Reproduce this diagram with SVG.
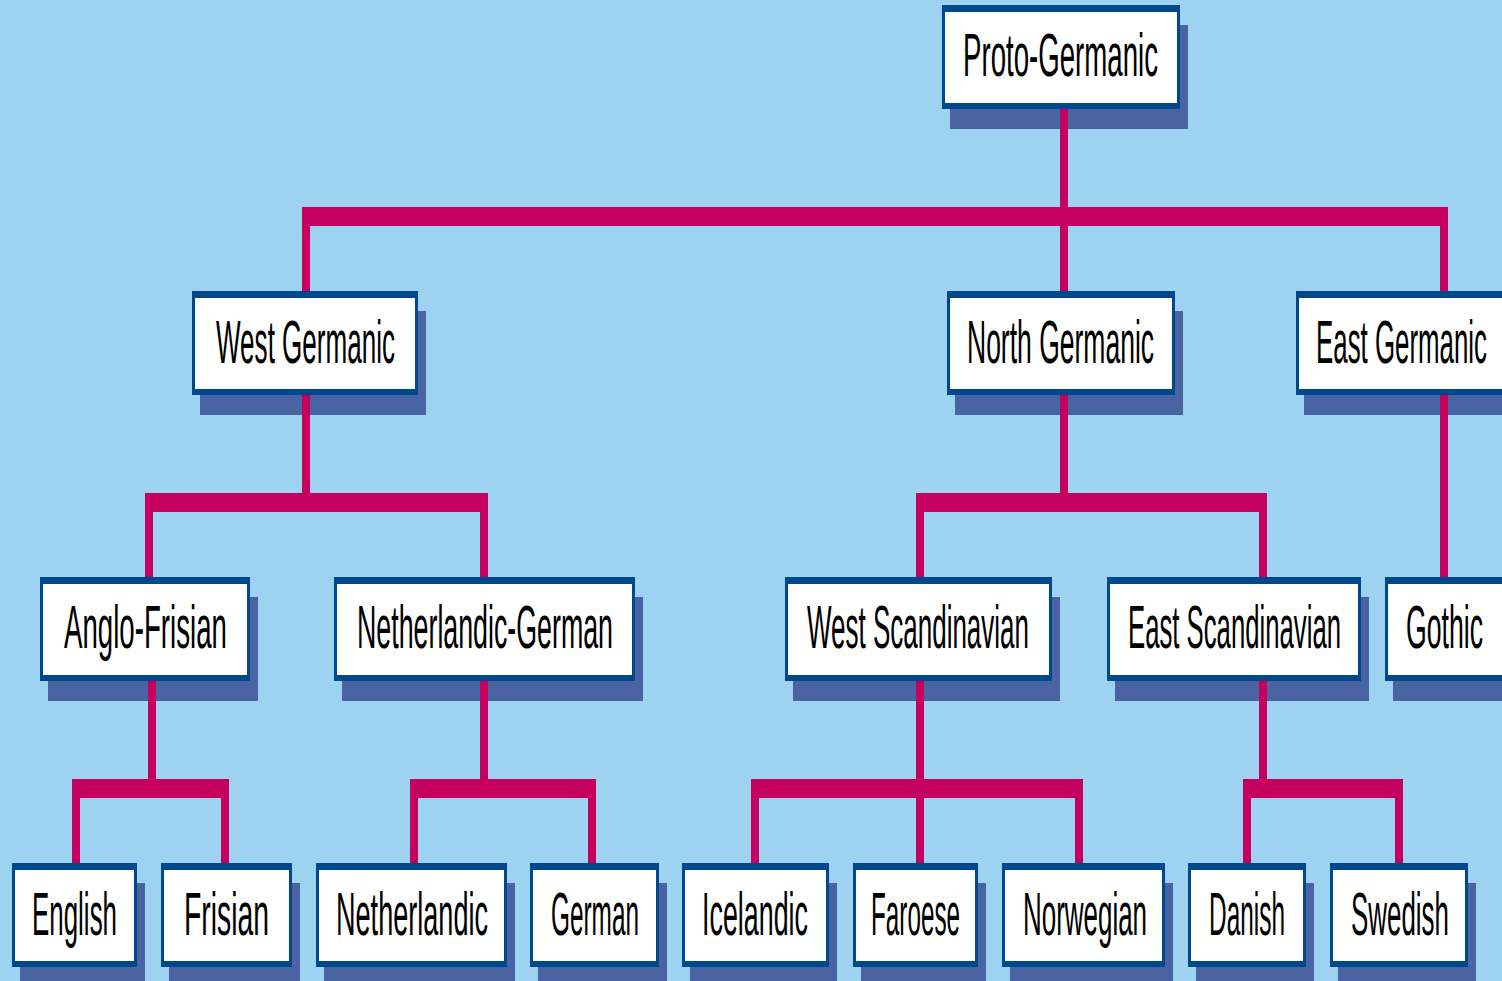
<svg xmlns="http://www.w3.org/2000/svg" width="1502" height="981" viewBox="0 0 1502 981">
<style>
.sh{fill:#4A63A2}
.bd{fill:#00488C}
.in{fill:#FFFFFF}
.t{font-family:"Liberation Sans",Arial,sans-serif;font-size:62px;fill:#000000}
.c rect{fill:#C5005F}
</style>
<rect x="0" y="0" width="1502" height="981" fill="#9DD3F1"/>
<g id="proto-germanic"><rect class="sh" x="950" y="25" width="238" height="104"/><rect class="bd" x="942" y="5" width="238" height="104"/><rect class="in" x="945" y="12" width="232" height="91"/><text class="t" transform="translate(963,76) scale(0.45,1)" textLength="433.3" lengthAdjust="spacingAndGlyphs">Proto-Germanic</text></g>
<g id="west-germanic"><rect class="sh" x="200" y="311" width="226" height="104"/><rect class="bd" x="192" y="291" width="226" height="104"/><rect class="in" x="195" y="298" width="220" height="91"/><text class="t" transform="translate(216,363) scale(0.45,1)" textLength="397.8" lengthAdjust="spacingAndGlyphs">West Germanic</text></g>
<g id="north-germanic"><rect class="sh" x="955" y="311" width="228" height="104"/><rect class="bd" x="947" y="291" width="228" height="104"/><rect class="in" x="950" y="298" width="222" height="91"/><text class="t" transform="translate(967,363) scale(0.45,1)" textLength="415.6" lengthAdjust="spacingAndGlyphs">North Germanic</text></g>
<g id="east-germanic"><rect class="sh" x="1304" y="311" width="198" height="104"/><rect class="bd" x="1296" y="291" width="206" height="104"/><rect class="in" x="1299" y="298" width="203" height="91"/><text class="t" transform="translate(1316,363) scale(0.45,1)" textLength="380" lengthAdjust="spacingAndGlyphs">East Germanic</text></g>
<g id="anglo-frisian"><rect class="sh" x="48" y="597" width="210" height="104"/><rect class="bd" x="40" y="577" width="210" height="104"/><rect class="in" x="43" y="584" width="204" height="91"/><text class="t" transform="translate(64,648) scale(0.45,1)" textLength="362.2" lengthAdjust="spacingAndGlyphs">Anglo-Frisian</text></g>
<g id="netherlandic-german"><rect class="sh" x="342" y="597" width="301" height="104"/><rect class="bd" x="334" y="577" width="301" height="104"/><rect class="in" x="337" y="584" width="295" height="91"/><text class="t" transform="translate(357,648) scale(0.45,1)" textLength="568.9" lengthAdjust="spacingAndGlyphs">Netherlandic-German</text></g>
<g id="west-scandinavian"><rect class="sh" x="793" y="597" width="267" height="104"/><rect class="bd" x="785" y="577" width="267" height="104"/><rect class="in" x="788" y="584" width="261" height="91"/><text class="t" transform="translate(807,648) scale(0.45,1)" textLength="493.3" lengthAdjust="spacingAndGlyphs">West Scandinavian</text></g>
<g id="east-scandinavian"><rect class="sh" x="1115" y="597" width="254" height="104"/><rect class="bd" x="1107" y="577" width="254" height="104"/><rect class="in" x="1110" y="584" width="248" height="91"/><text class="t" transform="translate(1128,648) scale(0.45,1)" textLength="473.3" lengthAdjust="spacingAndGlyphs">East Scandinavian</text></g>
<g id="gothic"><rect class="sh" x="1393" y="597" width="109" height="104"/><rect class="bd" x="1385" y="577" width="117" height="104"/><rect class="in" x="1388" y="584" width="114" height="91"/><text class="t" transform="translate(1406,648) scale(0.45,1)" textLength="171.1" lengthAdjust="spacingAndGlyphs">Gothic</text></g>
<g id="english"><rect class="sh" x="20" y="883" width="125" height="98"/><rect class="bd" x="12" y="863" width="125" height="104"/><rect class="in" x="15" y="870" width="119" height="91"/><text class="t" transform="translate(32,935) scale(0.45,1)" textLength="188.9" lengthAdjust="spacingAndGlyphs">English</text></g>
<g id="frisian"><rect class="sh" x="169" y="883" width="131" height="98"/><rect class="bd" x="161" y="863" width="131" height="104"/><rect class="in" x="164" y="870" width="125" height="91"/><text class="t" transform="translate(184,935) scale(0.45,1)" textLength="188.9" lengthAdjust="spacingAndGlyphs">Frisian</text></g>
<g id="netherlandic"><rect class="sh" x="324" y="883" width="191" height="98"/><rect class="bd" x="316" y="863" width="191" height="104"/><rect class="in" x="319" y="870" width="185" height="91"/><text class="t" transform="translate(336,935) scale(0.45,1)" textLength="337.8" lengthAdjust="spacingAndGlyphs">Netherlandic</text></g>
<g id="german"><rect class="sh" x="538" y="883" width="129" height="98"/><rect class="bd" x="530" y="863" width="129" height="104"/><rect class="in" x="533" y="870" width="123" height="91"/><text class="t" transform="translate(551,935) scale(0.45,1)" textLength="195.6" lengthAdjust="spacingAndGlyphs">German</text></g>
<g id="icelandic"><rect class="sh" x="690" y="883" width="147" height="98"/><rect class="bd" x="682" y="863" width="147" height="104"/><rect class="in" x="685" y="870" width="141" height="91"/><text class="t" transform="translate(702,935) scale(0.45,1)" textLength="235.6" lengthAdjust="spacingAndGlyphs">Icelandic</text></g>
<g id="faroese"><rect class="sh" x="861" y="883" width="125" height="98"/><rect class="bd" x="853" y="863" width="125" height="104"/><rect class="in" x="856" y="870" width="119" height="91"/><text class="t" transform="translate(871,935) scale(0.45,1)" textLength="197.8" lengthAdjust="spacingAndGlyphs">Faroese</text></g>
<g id="norwegian"><rect class="sh" x="1010" y="883" width="163" height="98"/><rect class="bd" x="1002" y="863" width="163" height="104"/><rect class="in" x="1005" y="870" width="157" height="91"/><text class="t" transform="translate(1023,935) scale(0.45,1)" textLength="275.6" lengthAdjust="spacingAndGlyphs">Norwegian</text></g>
<g id="danish"><rect class="sh" x="1196" y="883" width="118" height="98"/><rect class="bd" x="1188" y="863" width="118" height="104"/><rect class="in" x="1191" y="870" width="112" height="91"/><text class="t" transform="translate(1209,935) scale(0.45,1)" textLength="168.9" lengthAdjust="spacingAndGlyphs">Danish</text></g>
<g id="swedish"><rect class="sh" x="1338" y="883" width="138" height="98"/><rect class="bd" x="1330" y="863" width="138" height="104"/><rect class="in" x="1333" y="870" width="132" height="91"/><text class="t" transform="translate(1351,935) scale(0.45,1)" textLength="217.8" lengthAdjust="spacingAndGlyphs">Swedish</text></g>
<g id="connectors" class="c">
<rect x="1060" y="109" width="8" height="98"/>
<rect x="302" y="207" width="1146" height="19"/>
<rect x="302" y="226" width="8" height="65"/>
<rect x="1060" y="226" width="8" height="65"/>
<rect x="1440" y="226" width="8" height="65"/>
<rect x="302" y="395" width="8" height="98"/>
<rect x="145" y="493" width="343" height="19"/>
<rect x="145" y="512" width="8" height="65"/>
<rect x="480" y="512" width="8" height="65"/>
<rect x="1060" y="395" width="8" height="98"/>
<rect x="916" y="493" width="351" height="19"/>
<rect x="916" y="512" width="8" height="65"/>
<rect x="1259" y="512" width="8" height="65"/>
<rect x="1440" y="395" width="8" height="182"/>
<rect x="148" y="681" width="8" height="98"/>
<rect x="72" y="779" width="157" height="19"/>
<rect x="72" y="798" width="8" height="65"/>
<rect x="221" y="798" width="8" height="65"/>
<rect x="480" y="681" width="8" height="98"/>
<rect x="410" y="779" width="186" height="19"/>
<rect x="410" y="798" width="8" height="65"/>
<rect x="588" y="798" width="8" height="65"/>
<rect x="916" y="681" width="8" height="98"/>
<rect x="751" y="779" width="332" height="19"/>
<rect x="751" y="798" width="8" height="65"/>
<rect x="916" y="798" width="8" height="65"/>
<rect x="1075" y="798" width="8" height="65"/>
<rect x="1259" y="681" width="8" height="98"/>
<rect x="1243" y="779" width="160" height="19"/>
<rect x="1243" y="798" width="8" height="65"/>
<rect x="1395" y="798" width="8" height="65"/>
</g>
</svg>
